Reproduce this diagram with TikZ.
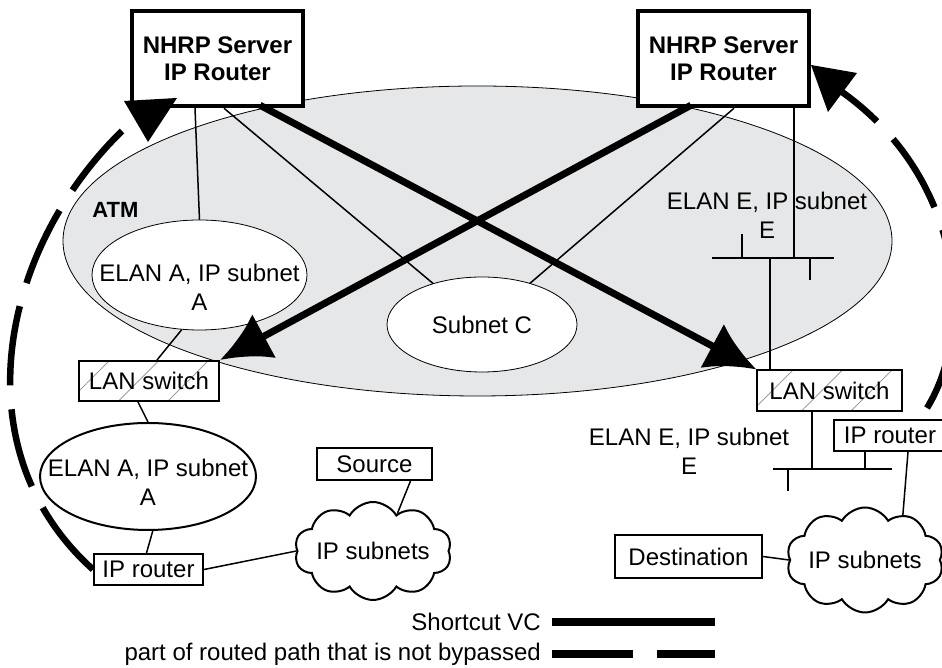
\documentclass[tikz,border=0pt]{standalone}
\usepackage{fontspec}
\setmainfont{Liberation Sans}
\usetikzlibrary{arrows.meta,shapes.geometric,shapes.symbols,patterns.meta}
\definecolor{atmgray}{RGB}{230,231,232}
\begin{document}
\begin{tikzpicture}[x=1pt, y=1pt, font=\fontsize{24}{29}\selectfont,
  box/.style={draw, line width=2pt, fill=white, inner sep=0pt, align=center},
  server/.style={box, line width=4.5pt, font=\fontsize{24}{27}\selectfont\bfseries, minimum width=171pt, minimum height=95pt},
  switchbox/.style={box, preaction={fill=white}, pattern={Lines[angle=45,distance=35pt,line width=1pt]}, pattern color=gray!75},
  lan/.style={draw, ellipse, fill=white, inner sep=0pt, line width=0.8pt},
  cloudy/.style={draw, cloud, cloud puffs=10, cloud puff arc=120, cloud ignores aspect, line width=2pt, inner sep=0pt},
  wire/.style={line width=1.5pt},
  shortcut/.style={line width=7pt, -{Latex[length=50pt,width=50pt]}},
  routed/.style={line width=6.5pt, dash pattern=on 80pt off 24pt}]
\useasboundingbox (0,0) rectangle (942,668);

\filldraw[fill=atmgray, line width=0.8pt] (477.5,427) ellipse [x radius=414.5, y radius=155];
\node[font=\fontsize{22}{26}\selectfont\bfseries] (atm) at (115.5,458) {ATM};

\node[server] (nhrpL) at (217.5,609.5) {NHRP Server\\IP Router};
\node[server] (nhrpR) at (723.5,609.5) {NHRP Server\\IP Router};

\draw[wire] ([xshift=-22.5pt]nhrpL.south) -- (199.5,448);
\draw[wire] ([xshift=6.5pt]nhrpL.south) -- (482,343.5);
\draw[wire] ([xshift=10.5pt]nhrpR.south) -- (482,343.5);

\node[lan, minimum width=215pt, minimum height=110pt, label={[align=center, yshift=-12pt]center:ELAN A, IP subnet\\A}] (elanA) at (199.5,393) {};
\node[lan, minimum width=190pt, minimum height=95pt] (subC) at (482,343.5) {Subnet C};
\node[align=center] (elanEup) at (767,453) {ELAN E, IP subnet\\E};

\coordinate (busE1) at (712,410);
\coordinate (busE2) at (834,410);
\coordinate (tapS) at (794,410);
\coordinate (tapL) at (770,410);
\draw[wire] (busE1) -- (busE2);
\draw[wire] (742,410) -- (742,434);
\draw[wire] (810,410) -- (810,388);
\draw[wire] (nhrpR.south -| tapS) -- (tapS);

\node[switchbox, minimum width=145pt, minimum height=41pt] (lanR) at (829.5,277.5) {LAN switch};
\node[box, minimum width=112pt, minimum height=31pt] (ipR) at (890,232.5) {IP router};
\node[align=center] (elanElow) at (689,216.5) {ELAN E, IP subnet\\E};
\draw[wire] (tapL) -- (lanR.north -| tapL);

\coordinate (busF1) at (773,199);
\coordinate (busF2) at (892,199);
\coordinate (tapF) at (812,199);
\coordinate (tapR) at (865,199);
\draw[wire] (busF1) -- (busF2);
\draw[wire] (lanR.south -| tapF) -- (tapF);
\draw[wire] (tapR) -- (ipR.south -| tapR);
\draw[wire] (788,199) -- (788,177);

\node[cloudy, minimum width=148pt, minimum height=105pt] (cloudR) at (865,108) {IP subnets};
\node[box, minimum width=147pt, minimum height=43pt] (dest) at (688.5,111.5) {Destination};
\draw[wire] (dest.east) -- (cloudR.west);
\draw[wire] ([xshift=18pt]ipR.south) -- (cloudR.50);

\node[switchbox, minimum width=140pt, minimum height=40pt] (lanL) at (149,287) {LAN switch};
\node[lan, line width=2pt, minimum width=216pt, minimum height=107pt, label={[align=center, yshift=-6pt]center:ELAN A, IP subnet\\A}] (elanA2) at (148,191.5) {};
\node[box, minimum width=109pt, minimum height=31pt] (ipL) at (148.5,98.5) {IP router};
\node[cloudy, minimum width=136pt, minimum height=98pt] (cloudL) at (373,117) {IP subnets};
\node[box, minimum width=115pt, minimum height=32pt] (src) at (374.5,204) {Source};

\draw[wire] (elanA.252) -- ([xshift=8pt]lanL.north);
\draw[wire] ([xshift=-11pt]lanL.south) -- (elanA2.north);
\draw[wire] (elanA2.275) -- ([xshift=-2pt]ipL.north);
\draw[wire] (ipL.east) -- (cloudL.west);
\draw[wire] ([xshift=36pt]src.south) -- (cloudL.57);

\draw[shortcut] ([xshift=42.5pt,yshift=3pt]nhrpL.south) -- (lanR.north west);
\draw[shortcut] ([xshift=-32.5pt,yshift=3pt]nhrpR.south) -- (lanL.north east);

\coordinate (arcR) at (927,260);
\draw[routed] (arcR) .. controls (975,338) and (965,488) .. (842,576);
\fill (811,603) -- (857,595) -- (828,556) -- cycle;
\draw[routed] (ipL.west) .. controls (-40,218) and (0,418) .. (122,537);
\fill (148,526) -- (124,567) -- (177,570) -- cycle;

\node[anchor=east, inner sep=0pt] (legvc) at (541,46) {Shortcut VC};
\node[anchor=east, inner sep=0pt] (legrt) at (541,14) {part of routed path that is not bypassed};
\draw[line width=8pt] ([xshift=11pt]legvc.east) -- ++(163,0);
\draw[line width=8pt, dash pattern=on 81pt off 24pt] ([xshift=11pt]legrt.east) -- ++(163,0);
\end{tikzpicture}
\end{document}
